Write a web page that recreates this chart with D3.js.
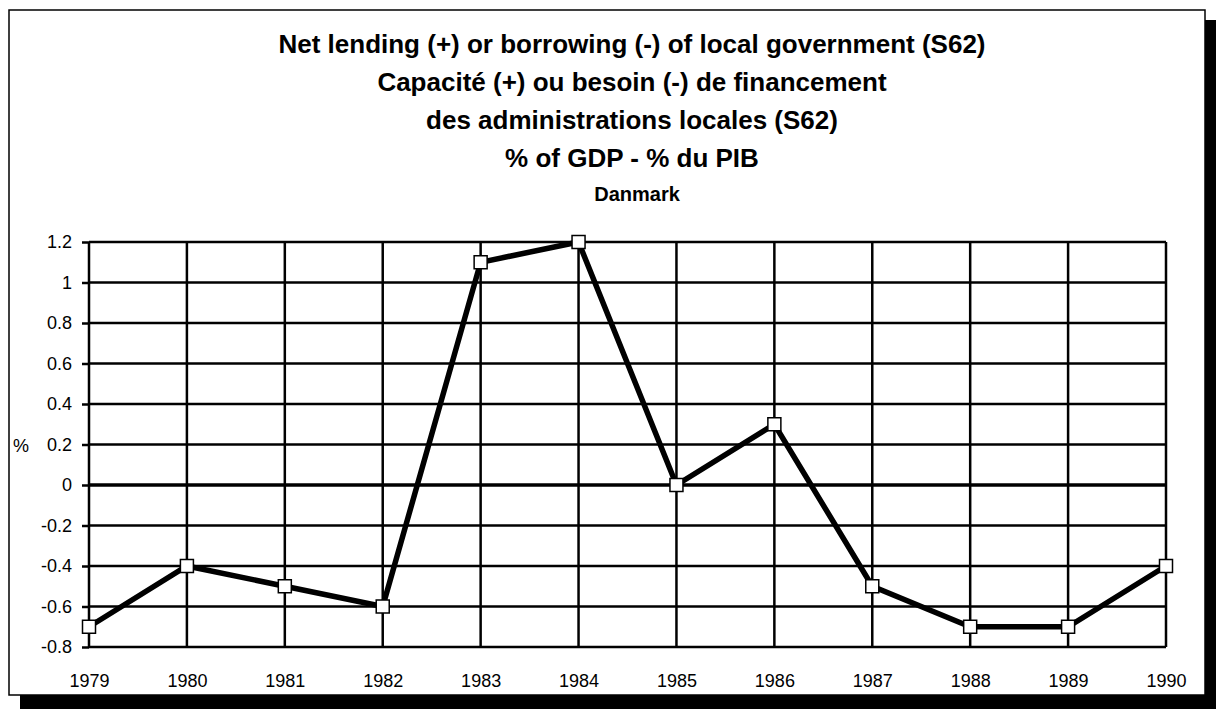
<!DOCTYPE html>
<html>
<head>
<meta charset="utf-8">
<script src="https://cdn.jsdelivr.net/npm/d3@7"></script>
<style>
  body { margin: 0; background: #fff; }
  text { font-family: "Liberation Sans", Arial, sans-serif; fill: #000; }
</style>
</head>
<body>
<svg id="chart" width="1216" height="709"></svg>
<script>
(function(){

	var years = ["1979","1980","1981","1982","1983","1984","1985","1986","1987","1988","1989","1990"];
	var values = [-0.7, -0.4, -0.5, -0.6, 1.1, 1.2, 0.0, 0.3, -0.5, -0.7, -0.7, -0.4];
	var yTicks = [-0.8, -0.6, -0.4, -0.2, 0, 0.2, 0.4, 0.6, 0.8, 1, 1.2];
	var titleLines = [
		"Net lending (+) or borrowing (-) of local government (S62)",
		"Capacité (+) ou besoin (-) de financement",
		"des administrations locales (S62)",
		"% of GDP - % du PIB"
	];
	var subtitle = "Danmark";

	var svg = d3.select("#chart");

	// frame with drop shadow
	svg.append("rect").attr("x", 20).attr("y", 20).attr("width", 1196).attr("height", 689).attr("fill", "#000");
	svg.append("rect").attr("x", 9).attr("y", 10).attr("width", 1196).attr("height", 685)
		.attr("fill", "#fff").attr("stroke", "#000").attr("stroke-width", 1.5);

	var x = d3.scalePoint().domain(years).range([89, 1166]);
	var y = d3.scaleLinear().domain([-0.8, 1.2]).range([647, 242]);

	// titles
	svg.append("g").selectAll("text").data(titleLines).enter().append("text")
		.attr("x", 632)
		.attr("y", function(d, i) { return 53 + i * 38; })
		.attr("text-anchor", "middle")
		.attr("font-size", 26)
		.attr("font-weight", "bold")
		.text(function(d) { return d; });

	svg.append("text").attr("x", 637).attr("y", 201).attr("text-anchor", "middle")
		.attr("font-size", 20).attr("font-weight", "bold").text(subtitle);

	// gridlines
	var grid = svg.append("g");
	grid.selectAll("line.h").data(yTicks).enter().append("line")
		.attr("x1", x(years[0])).attr("x2", x(years[years.length - 1]))
		.attr("y1", function(d) { return y(d); }).attr("y2", function(d) { return y(d); })
		.attr("stroke", "#000")
		.attr("stroke-width", function(d) { return d === 0 ? 3.5 : 2.5; });
	grid.selectAll("line.v").data(years).enter().append("line")
		.attr("x1", function(d) { return x(d); }).attr("x2", function(d) { return x(d); })
		.attr("y1", y(1.2)).attr("y2", y(-0.8))
		.attr("stroke", "#000").attr("stroke-width", 2.5);

	// y axis
	var yAxis = d3.axisLeft(y).tickValues(yTicks).tickSize(7).tickPadding(10)
		.tickFormat(function(d) { return String(d).replace("−", "-"); });
	var ga = svg.append("g").attr("transform", "translate(" + x(years[0]) + ",0)").call(yAxis);
	ga.select(".domain").remove();
	ga.selectAll(".tick line").attr("stroke", "#000").attr("stroke-width", 2.5);
	ga.selectAll(".tick text").attr("font-size", 18).attr("font-family", "Liberation Sans, Arial, sans-serif");

	// x axis
	var xAxis = d3.axisBottom(x).tickSize(0).tickPadding(27);
	var gx = svg.append("g").attr("transform", "translate(0," + y(-0.8) + ")").call(xAxis);
	gx.select(".domain").remove();
	gx.selectAll(".tick text").attr("font-size", 18).attr("font-family", "Liberation Sans, Arial, sans-serif");

	svg.append("text").attr("x", 13).attr("y", y(0.2) + 7).attr("font-size", 18).text("%");

	// series
	var line = d3.line()
		.x(function(d, i) { return x(years[i]); })
		.y(function(d) { return y(d); });
	svg.append("path").datum(values).attr("d", line)
		.attr("fill", "none").attr("stroke", "#000").attr("stroke-width", 5.5).attr("stroke-linejoin", "miter");

	svg.append("g").selectAll("rect").data(values).enter().append("rect")
		.attr("x", function(d, i) { return x(years[i]) - 6.5; })
		.attr("y", function(d) { return y(d) - 6.5; })
		.attr("width", 13).attr("height", 13)
		.attr("fill", "#fff").attr("stroke", "#000").attr("stroke-width", 1.5);

})();
</script>
</body>
</html>
